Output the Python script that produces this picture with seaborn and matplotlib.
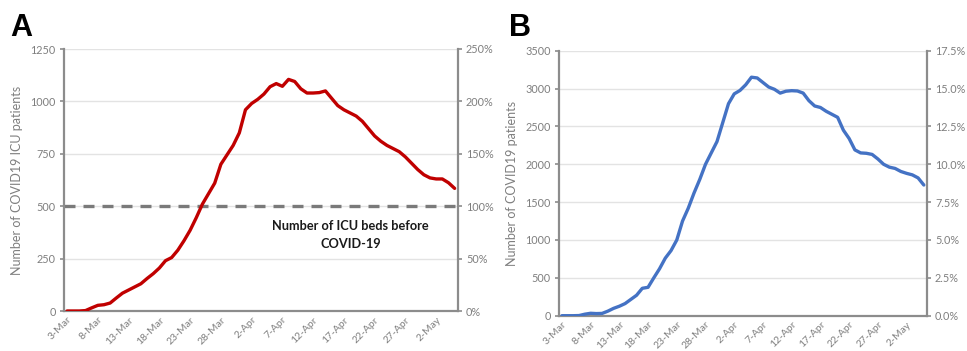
import numpy as np
import pandas as pd
import matplotlib
matplotlib.use("Agg")
import matplotlib.pyplot as plt
import seaborn as sns
from matplotlib.ticker import FuncFormatter, FixedLocator

# Daily series, 3 March to 5 May
dates = pd.date_range("2020-03-03", "2020-05-05", freq="D")
date_labels = [f"{d.day}-{d.strftime('%b')}" for d in dates]

icu_patients = [0, 0, 0, 2, 15, 27, 30, 38, 62, 85,
                100, 115, 130, 155, 178, 205, 240, 255, 290, 335,
                385, 445, 510, 560, 610, 700, 745, 790, 850, 960,
                990, 1010, 1035, 1070, 1085, 1072, 1105, 1095, 1060, 1040,
                1040, 1042, 1050, 1015, 980, 960, 945, 930, 905, 870,
                835, 810, 790, 775, 760, 735, 705, 675, 650, 635,
                630, 630, 612, 585]

hospital_patients = [0, 0, 0, 2, 20, 32, 28, 30, 60, 97,
                     125, 160, 215, 270, 362, 375, 500, 620, 760, 860,
                     1000, 1250, 1420, 1620, 1800, 2000, 2150, 2300, 2550, 2800,
                     2930, 2975, 3050, 3150, 3140, 3080, 3020, 2990, 2940, 2965,
                     2972, 2968, 2940, 2840, 2770, 2750, 2700, 2660, 2620, 2450,
                     2340, 2190, 2150, 2145, 2130, 2070, 2000, 1962, 1945, 1905,
                     1880, 1860, 1820, 1726]

icu_beds_before = 500          # 100 % on the right-hand axis of panel A
total_beds = 20000             # 100 % on the right-hand axis of panel B
label_every = 5

GREY_TXT = "#7f7f7f"
GREY_AX = "#8c8c8c"
GRID = "#e3e3e3"

sns.set_theme(style="white")
plt.rcParams["font.family"] = ["Lato", "DejaVu Sans"]

fig = plt.figure(figsize=(9.67, 3.51), dpi=100)
axA = fig.add_axes([64 / 967, 40 / 351, (457.7 - 64) / 967, 262 / 351])
axB = fig.add_axes([559 / 967, 35.3 / 351, (926.7 - 559) / 967, 265 / 351])

df = pd.DataFrame({"day": np.arange(len(dates)),
                   "icu": icu_patients,
                   "hosp": hospital_patients})


def style_axes(ax, ymax, ystep):
    n = len(dates)
    ax.set_xlim(-0.5, n - 0.5)
    ax.set_ylim(0, ymax)
    ax.set_yticks(np.arange(0, ymax + 1, ystep))
    ax.yaxis.set_major_formatter(FuncFormatter(lambda v, p: f"{int(v)}"))
    idx = list(range(0, n, label_every))
    ax.set_xticks(idx)
    ax.set_xticklabels([date_labels[i] for i in idx], rotation=45,
                       ha="right", va="top", rotation_mode="anchor")
    ax.xaxis.set_minor_locator(FixedLocator([i - 0.5 for i in idx] + [n - 0.5]))
    ax.tick_params(axis="x", which="major", length=0, pad=3,
                   labelsize=7.5, labelcolor=GREY_TXT)
    ax.tick_params(axis="x", which="minor", length=4, width=1.2,
                   color=GREY_AX, direction="out")
    ax.tick_params(axis="y", length=3, width=1.2, color=GREY_AX,
                  labelsize=7.8, labelcolor=GREY_TXT, pad=3, left=True)
    ax.grid(axis="y", color=GRID, lw=1)
    ax.set_axisbelow(True)
    for s in ["top", "right"]:
        ax.spines[s].set_visible(False)
    for s in ["left", "bottom"]:
        ax.spines[s].set_color(GREY_AX)
        ax.spines[s].set_linewidth(1.6)


def right_axis(ax, ymax_left, denom, fmt, step_pct):
    r = ax.twinx()
    r.set_ylim(0, ymax_left / denom * 100)
    r.set_yticks(np.arange(0, ymax_left / denom * 100 + 1e-9, step_pct))
    r.yaxis.set_major_formatter(FuncFormatter(lambda v, p: fmt.format(v)))
    r.tick_params(axis="y", length=3, width=1.2, color=GREY_AX,
                  labelsize=7.8, labelcolor=GREY_TXT, pad=3, right=True)
    for s in ["top", "left", "bottom"]:
        r.spines[s].set_visible(False)
    r.spines["right"].set_color(GREY_AX)
    r.spines["right"].set_linewidth(1.6)
    r.grid(False)
    return r


# Panel A: ICU patients
style_axes(axA, 1250, 250)
axA.axhline(icu_beds_before, color="#7a7a7a", lw=2.4, dashes=(3.3, 2.4), zorder=2)
sns.lineplot(data=df, x="day", y="icu", ax=axA, color="#c00000", lw=2.4, zorder=3)
axA.set_xlabel("")
axA.set_ylabel("Number of COVID19 ICU patients", fontsize=9, color=GREY_TXT, labelpad=5)
axA.text(46.1, 362, "Number of ICU beds before\nCOVID-19", ha="center", va="center",
         fontsize=9.2, fontweight="bold", color="#1a1a1a", linespacing=1.55)
right_axis(axA, 1250, icu_beds_before, "{:.0f}%", 50)

# Panel B: hospitalised patients
style_axes(axB, 3500, 500)
sns.lineplot(data=df, x="day", y="hosp", ax=axB, color="#4472c4", lw=2.4, zorder=3)
axB.set_xlabel("")
axB.set_ylabel("Number of COVID19 patients", fontsize=9, color=GREY_TXT, labelpad=5)
right_axis(axB, 3500, total_beds, "{:.1f}%", 2.5)

fig.text(10 / 967, 1 - 36 / 351, "A", fontsize=22, fontweight="bold",
         family=["Liberation Sans", "DejaVu Sans"], color="black")
fig.text(509 / 967, 1 - 36 / 351, "B", fontsize=22, fontweight="bold",
         family=["Liberation Sans", "DejaVu Sans"], color="black")

fig.savefig("out.png", dpi=100)
